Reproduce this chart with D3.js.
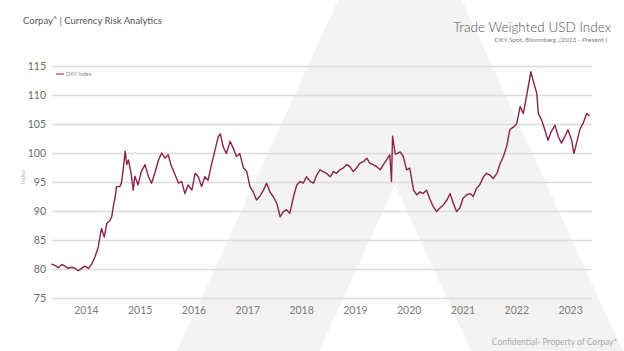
<!DOCTYPE html>
<html>
<head>
<meta charset="utf-8">
<script src="https://cdn.jsdelivr.net/npm/d3@7"></script>
<style>
  body { margin: 0; background: #fff; }
  svg { display: block; font-family: Lato, "Open Sans", sans-serif; }
</style>
</head>
<body>
<div id="chart"></div>
<script>
// decimal years
const years = [
  2013.86, 2013.93, 2013.99, 2014.05, 2014.11, 2014.17, 2014.24, 2014.30, 2014.36, 2014.42,
  2014.48, 2014.55, 2014.61, 2014.67, 2014.73, 2014.76, 2014.79, 2014.84, 2014.89, 2014.95,
  2014.98, 2015.01, 2015.04, 2015.07, 2015.13, 2015.16, 2015.20, 2015.23, 2015.26, 2015.29,
  2015.34, 2015.38, 2015.41, 2015.47, 2015.53, 2015.60, 2015.66, 2015.72, 2015.78, 2015.85,
  2015.91, 2015.97, 2016.03, 2016.09, 2016.16, 2016.22, 2016.28, 2016.34, 2016.40, 2016.47,
  2016.53, 2016.59, 2016.65, 2016.71, 2016.77, 2016.84, 2016.90, 2016.96, 2017.00, 2017.05,
  2017.11, 2017.18, 2017.24, 2017.30, 2017.36, 2017.43, 2017.49, 2017.55, 2017.61, 2017.67,
  2017.73, 2017.80, 2017.86, 2017.92, 2017.98, 2018.05, 2018.11, 2018.17, 2018.23, 2018.29,
  2018.36, 2018.42, 2018.48, 2018.54, 2018.60, 2018.67, 2018.73, 2018.79, 2018.85, 2018.91,
  2018.97, 2019.04, 2019.10, 2019.16, 2019.22, 2019.28, 2019.35, 2019.41, 2019.47, 2019.53,
  2019.59, 2019.66, 2019.72, 2019.78, 2019.84, 2019.91, 2019.97, 2020.03, 2020.09, 2020.15,
  2020.18, 2020.20, 2020.25, 2020.28, 2020.34, 2020.40, 2020.46, 2020.52, 2020.59, 2020.65,
  2020.71, 2020.77, 2020.83, 2020.90, 2020.96, 2021.02, 2021.08, 2021.14, 2021.21, 2021.27,
  2021.33, 2021.39, 2021.45, 2021.51, 2021.58, 2021.64, 2021.70, 2021.76, 2021.82, 2021.89,
  2021.95, 2022.01, 2022.07, 2022.14, 2022.20, 2022.26, 2022.32, 2022.38, 2022.45, 2022.51,
  2022.57, 2022.63, 2022.69, 2022.77, 2022.81, 2022.88, 2022.91, 2022.97, 2023.03, 2023.09,
  2023.15, 2023.22, 2023.28, 2023.34, 2023.40, 2023.46, 2023.53, 2023.57, 2023.62, 2023.68,
  2023.74, 2023.81, 2023.86
];

const dxy = [
  80.9, 80.6, 80.2, 80.8, 80.5, 80.1, 80.3, 80.1, 79.7, 80.1,
  80.5, 80.1, 80.9, 82.1, 83.8, 85.5, 87.0, 85.5, 87.9, 88.4,
  89.0, 90.8, 92.2, 94.2, 94.2, 94.8, 97.7, 100.3, 98.0, 98.8,
  96.5, 93.6, 96.0, 94.5, 96.8, 98.0, 96.0, 94.8, 96.5, 98.8,
  100.0, 99.1, 99.7, 97.7, 96.2, 94.8, 95.1, 93.0, 94.5, 93.6,
  96.5, 95.9, 94.2, 95.9, 95.3, 98.2, 100.5, 102.8, 103.3, 101.1,
  99.9, 102.0, 100.8, 99.4, 99.9, 97.4, 96.8, 94.2, 93.3, 91.9,
  92.5, 93.6, 94.8, 93.3, 92.5, 91.3, 89.0, 89.9, 90.2, 89.6,
  92.5, 94.5, 95.1, 94.8, 95.9, 95.1, 94.8, 96.2, 97.1, 96.8,
  96.5, 95.9, 96.8, 96.5, 97.1, 97.4, 98.0, 97.6, 96.8, 97.4,
  98.2, 98.5, 99.1, 98.2, 98.0, 97.6, 97.1, 98.0, 98.8, 99.7,
  95.1, 102.9, 99.8, 99.9, 100.2, 99.4, 97.1, 97.4, 93.6, 92.8,
  93.3, 93.0, 93.6, 91.9, 90.7, 89.9, 90.5, 91.0, 91.9, 93.0,
  91.3, 89.9, 90.5, 92.2, 92.8, 93.0, 92.5, 93.9, 94.5, 95.9,
  96.5, 96.2, 95.6, 96.5, 98.2, 99.4, 101.1, 104.0, 104.5, 105.1,
  108.0, 106.8, 109.7, 114.0, 112.6, 110.3, 106.8, 105.7, 104.0, 102.2,
  103.7, 104.8, 102.8, 101.7, 102.8, 104.0, 102.2, 99.9, 101.7, 104.0,
  105.1, 106.8, 106.4
];

const yearLabels = ["2014", "2015", "2016", "2017", "2018", "2019", "2020", "2021", "2022", "2023"];
const yTicks = [75, 80, 85, 90, 95, 100, 105, 110, 115];

const width = 624;
const height = 351;
const margin = { top: 66, right: 32, bottom: 53, left: 52 };

const svg = d3.select("#chart")
  .append("svg")
  .attr("width", width)
  .attr("height", height);

// faint logo watermark behind everything
svg.append("path")
  .attr("d", "M338,0 L462,0 L623,351 L471,351 L395,185 L319,351 L177,351 Z")
  .attr("fill", "#f3f3f3");

const x = d3.scaleLinear()
  .domain([2014, 2024])
  .range([59, 597]);

const y = d3.scaleLinear()
  .domain([75, 115])
  .range([height - margin.bottom, margin.top]);

// gridlines + y labels
const yAxis = svg.append("g")
  .attr("transform", `translate(${margin.left},0)`)
  .call(d3.axisLeft(y).tickValues(yTicks)
    .tickSize(-(width - margin.left - margin.right))
    .tickPadding(6));
yAxis.select(".domain").remove();
yAxis.selectAll(".tick line").attr("stroke", "#dcdcdc").attr("stroke-width", 1.6);
yAxis.selectAll(".tick text")
  .attr("fill", "#6b6b6b")
  .style("font-size", "10.5px")
  .style("font-family", "Lato, sans-serif");

// x labels at mid-year
const xAxis = svg.append("g")
  .attr("transform", `translate(0,${height - margin.bottom})`)
  .call(d3.axisBottom(x)
    .tickValues(yearLabels.map(d => +d + 0.5))
    .tickFormat((d, i) => yearLabels[i])
    .tickSize(0)
    .tickPadding(9));
xAxis.select(".domain").remove();
xAxis.selectAll(".tick text")
  .attr("fill", "#7a7a7a")
  .style("font-size", "10.5px")
  .style("font-family", "Lato, sans-serif");

const line = d3.line()
  .x((d, i) => x(years[i]))
  .y(d => y(d));

svg.append("path")
  .datum(dxy)
  .attr("fill", "none")
  .attr("stroke", "#8a2346")
  .attr("stroke-width", 1.4)
  .attr("stroke-linejoin", "round")
  .attr("d", line);

// legend
svg.append("line")
  .attr("x1", 56).attr("x2", 64)
  .attr("y1", 74).attr("y2", 74)
  .attr("stroke", "#8a2346").attr("stroke-width", 1);
svg.append("text")
  .attr("x", 66).attr("y", 76)
  .attr("fill", "#888")
  .style("font-size", "5.5px")
  .text("DXY Index");

// y axis title
svg.append("text")
  .attr("transform", "translate(25,177) rotate(-90)")
  .attr("text-anchor", "middle")
  .attr("fill", "#b5b5b5")
  .style("font-size", "6px")
  .text("Index");

// header
const brand = svg.append("text")
  .attr("x", 23).attr("y", 24)
  .attr("fill", "#555")
  .style("font-size", "9.5px");
brand.append("tspan").text("Corpay");
brand.append("tspan").attr("dy", -2).attr("fill", "#7a1f3d").style("font-size", "7px").text("^");
brand.append("tspan").attr("dy", 2).text(" | Currency Risk Analytics");

svg.append("text")
  .attr("x", 611).attr("y", 32)
  .attr("text-anchor", "end")
  .attr("fill", "#555")
  .style("font-size", "13.5px")
  .style("font-weight", 300)
  .text("Trade Weighted USD Index");

svg.append("text")
  .attr("x", 607).attr("y", 42)
  .attr("text-anchor", "end")
  .attr("fill", "#808080")
  .style("font-size", "6.5px")
  .text("DXY Spot,  Bloomberg ,(2013 - Present )");

// footer
const foot = svg.append("text")
  .attr("x", 617).attr("y", 345)
  .attr("text-anchor", "end")
  .attr("fill", "#aaa")
  .style("font-size", "8.5px");
foot.append("tspan").text("Confidential- Property of Corpay");
foot.append("tspan").attr("dy", -2).attr("fill", "#9a5a70").style("font-size", "6px").text("^");
</script>
</body>
</html>
